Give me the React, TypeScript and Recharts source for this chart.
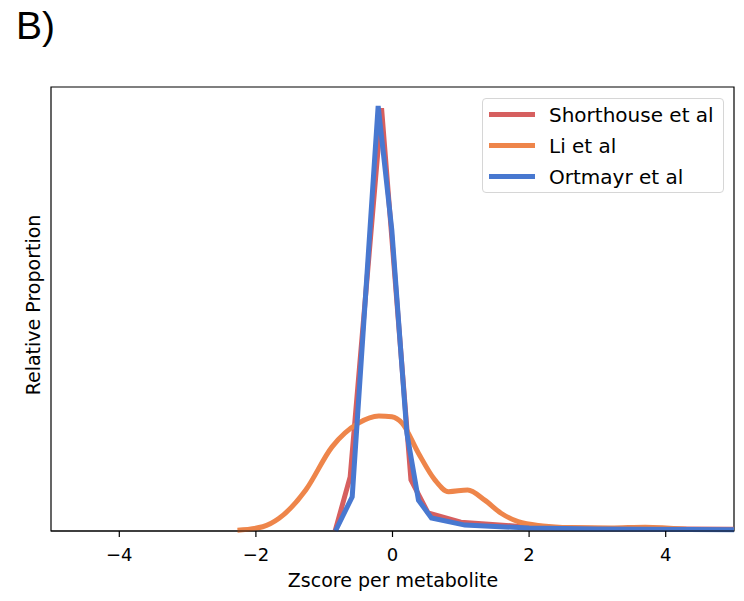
import { Legend, Line, LineChart, ReferenceArea, XAxis, YAxis } from "recharts";

// Zscore density curves (y normalised so the peak is ~1)
const shorthouseX = [-0.84, -0.62, -0.16, 0.27, 0.52, 1.0, 2.0, 3.0, 5.0];
const shorthouseY = [0, 0.128, 1.0, 0.121, 0.043, 0.021, 0.009, 0.006, 0.004];

const liX = [-2.27, -1.9, -1.66, -1.27, -0.885, -0.5, -0.2, -0.01, 0.14, 0.38, 0.62, 0.82, 1.1, 1.35, 1.59, 1.84, 2.2, 2.6, 3.2, 3.7, 4.3];
const liY = [0.002, 0.01, 0.03, 0.097, 0.199, 0.255, 0.272, 0.27, 0.255, 0.184, 0.121, 0.093, 0.097, 0.073, 0.042, 0.022, 0.012, 0.008, 0.007, 0.009, 0.004];

const ortmayrX = [-0.835, -0.59, -0.21, -0.01, 0.21, 0.38, 0.57, 1.06, 2.0, 3.0, 5.0];
const ortmayrY = [0, 0.081, 1.005, 0.712, 0.232, 0.073, 0.031, 0.014, 0.007, 0.005, 0.003];

const xTicks = [-4, -2, 0, 2, 4];

const FONT = "'DejaVu Sans', sans-serif";

const toPoints = (xs: number[], ys: number[]) => xs.map((x, i) => ({ x, y: ys[i] }));

const series = [
  { name: "Shorthouse et al", color: "#d65f5f", data: toPoints(shorthouseX, shorthouseY), curve: "linear" as const },
  { name: "Li et al", color: "#ee854a", data: toPoints(liX, liY), curve: "monotone" as const },
  { name: "Ortmayr et al", color: "#4878d0", data: toPoints(ortmayrX, ortmayrY), curve: "linear" as const },
];

const fmt = (v: number) => (v < 0 ? `\u2212${Math.abs(v)}` : `${v}`);

function LegendBox() {
  return (
    <div
      style={{
        border: "1px solid #d6d6d6",
        borderRadius: 4,
        background: "rgba(255,255,255,0.8)",
        padding: "0 0 3px 6px",
        fontFamily: FONT,
        fontSize: 20,
        color: "#000",
        boxSizing: "border-box",
        height: 95,
      }}
    >
      {series.map((s) => (
        <div key={s.name} style={{ display: "flex", alignItems: "center", height: 31 }}>
          <span style={{ width: 46, height: 5, background: s.color, marginRight: 14, flex: "none" }} />
          <span>{s.name}</span>
        </div>
      ))}
    </div>
  );
}

export default function App() {
  return (
    <div style={{ position: "absolute", left: 0, top: 0, width: 744, height: 601, background: "#fff" }}>
      <div
        style={{
          position: "absolute",
          left: 16,
          top: 2,
          fontFamily: "'Liberation Sans', Arial, sans-serif",
          fontSize: 39,
          lineHeight: "48px",
          color: "#000",
        }}
      >
        B)
      </div>
      <LineChart width={744} height={601} margin={{ top: 87, right: 10, left: 0, bottom: 0 }}>
        <XAxis
          type="number"
          dataKey="x"
          domain={[-5, 5]}
          ticks={xTicks}
          allowDataOverflow
          height={70}
          tickFormatter={fmt}
          tickSize={6}
          tickMargin={11}
          tick={{ fill: "#000", fontSize: 18, fontFamily: FONT }}
          tickLine={{ stroke: "#000", strokeWidth: 1.2 }}
          axisLine={{ stroke: "#000", strokeWidth: 1.2 }}
          label={{
            content: () => (
              <text x={393} y={580} textAnchor="middle" dominantBaseline="central" fontFamily={FONT} fontSize={19} fill="#000">
                Zscore per metabolite
              </text>
            ),
          }}
        />
        <YAxis
          type="number"
          dataKey="y"
          domain={[0, 1.05]}
          width={51}
          tick={false}
          axisLine={false}
          tickLine={false}
          label={{
            content: () => (
              <text
                x={33}
                y={305}
                transform="rotate(-90 33 305)"
                textAnchor="middle"
                dominantBaseline="central"
                fontFamily={FONT}
                fontSize={19}
                fill="#000"
              >
                Relative Proportion
              </text>
            ),
          }}
        />
        <ReferenceArea x1={-5} x2={5} y1={0} y2={1.05} fill="none" stroke="#000" strokeWidth={1.2} />
        {series.map((s) => (
          <Line
            key={s.name}
            data={s.data}
            dataKey="y"
            name={s.name}
            type={s.curve}
            stroke={s.color}
            strokeWidth={5}
            dot={false}
            activeDot={false}
            isAnimationActive={false}
          />
        ))}
        <Legend
          layout="horizontal"
          verticalAlign="middle"
          align="center"
          content={() => <LegendBox />}
          wrapperStyle={{ position: "absolute", left: 482, top: 98, width: 242, bottom: "auto", right: "auto" }}
        />
      </LineChart>
    </div>
  );
}
